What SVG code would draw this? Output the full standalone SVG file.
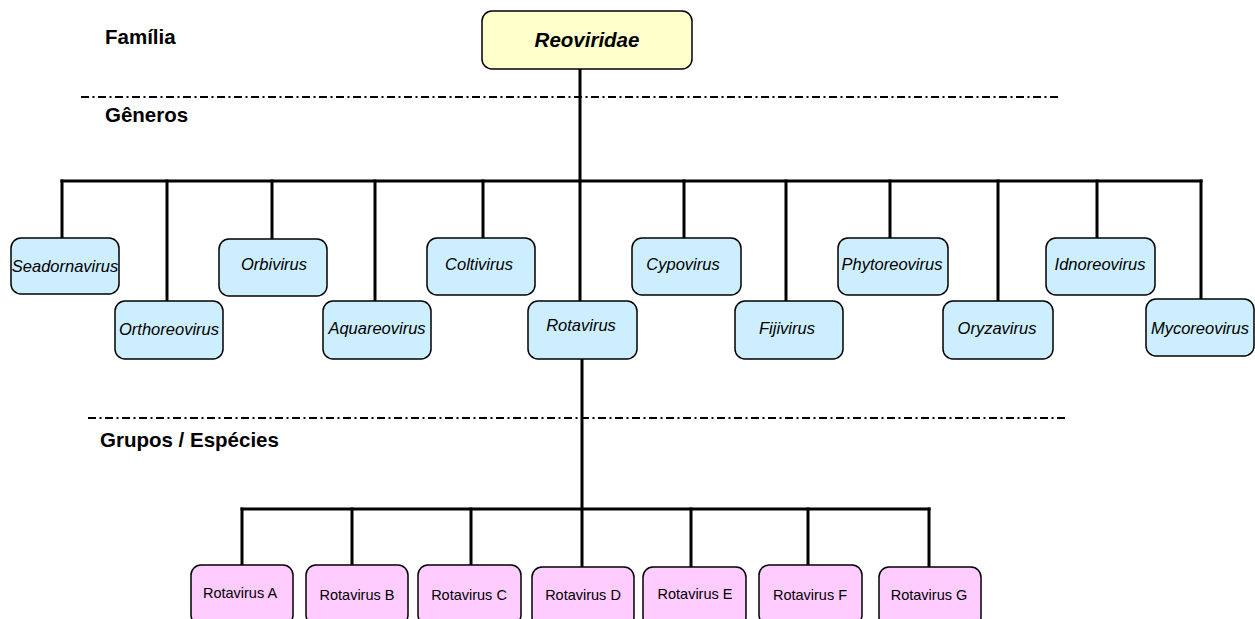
<svg xmlns="http://www.w3.org/2000/svg" width="1255" height="619" viewBox="0 0 1255 619">
<style>
.lbl{font-family:"Liberation Sans",Arial,sans-serif;font-weight:bold;font-size:20.5px;fill:#000}
.root rect{fill:#ffffcc;stroke:#000;stroke-width:1.5}
.root text{font-family:"Liberation Sans",Arial,sans-serif;font-weight:bold;font-style:italic;font-size:20.5px;text-anchor:middle}
.gen rect{fill:#cceeff;stroke:#000;stroke-width:1.5}
.gen text{font-family:"Liberation Sans",Arial,sans-serif;font-style:italic;font-size:16.5px;text-anchor:middle}
.sp rect{fill:#ffccff;stroke:#000;stroke-width:1.5}
.sp text{font-family:"Liberation Sans",Arial,sans-serif;font-size:14.5px;text-anchor:middle}
.sep{stroke:#000;stroke-width:2;stroke-dasharray:8 3.5 2 3.5;fill:none}
.con line{stroke:#000;stroke-width:3;stroke-linecap:square}
</style>
<rect width="1255" height="619" fill="#fff"/>
<g id="labels">
<text class="lbl" x="105" y="44">Família</text>
<text class="lbl" x="105" y="122">Gêneros</text>
<text class="lbl" x="100" y="447">Grupos / Espécies</text>
</g>
<g id="separators">
<line class="sep" x1="81" y1="97" x2="1058" y2="97"/>
<line class="sep" x1="88" y1="418" x2="1066" y2="418"/>
</g>
<g id="connectors" class="con">
<line x1="580" y1="69" x2="580" y2="181"/>
<line x1="62" y1="181" x2="1201" y2="181"/>
<line x1="62" y1="181" x2="62" y2="238"/>
<line x1="167" y1="181" x2="167" y2="301"/>
<line x1="272" y1="181" x2="272" y2="239"/>
<line x1="375" y1="181" x2="375" y2="301"/>
<line x1="483" y1="181" x2="483" y2="238"/>
<line x1="580" y1="181" x2="580" y2="301"/>
<line x1="684" y1="181" x2="684" y2="238"/>
<line x1="786" y1="181" x2="786" y2="301"/>
<line x1="890" y1="181" x2="890" y2="238"/>
<line x1="998" y1="181" x2="998" y2="301"/>
<line x1="1097" y1="181" x2="1097" y2="238"/>
<line x1="1201" y1="181" x2="1201" y2="299"/>
<line x1="582" y1="359" x2="582" y2="567"/>
<line x1="242" y1="509" x2="929" y2="509"/>
<line x1="242" y1="509" x2="242" y2="565"/>
<line x1="352" y1="509" x2="352" y2="565"/>
<line x1="471" y1="509" x2="471" y2="565"/>
<line x1="691" y1="509" x2="691" y2="567"/>
<line x1="808" y1="509" x2="808" y2="565"/>
<line x1="929" y1="509" x2="929" y2="567"/>
</g>
<g id="reoviridae" class="root"><rect x="482" y="11" width="210" height="58" rx="10"/><text x="587" y="47">Reoviridae</text></g>
<g id="seadornavirus" class="gen"><rect x="11" y="238" width="108" height="56" rx="10"/><text x="65" y="272">Seadornavirus</text></g>
<g id="orthoreovirus" class="gen"><rect x="115" y="301" width="108" height="58" rx="10"/><text x="169" y="335">Orthoreovirus</text></g>
<g id="orbivirus" class="gen"><rect x="219" y="239" width="108" height="57" rx="10"/><text x="274" y="270">Orbivirus</text></g>
<g id="aquareovirus" class="gen"><rect x="323" y="301" width="108" height="58" rx="10"/><text x="377" y="334">Aquareovirus</text></g>
<g id="coltivirus" class="gen"><rect x="427" y="238" width="108" height="57" rx="10"/><text x="479" y="270">Coltivirus</text></g>
<g id="rotavirus" class="gen"><rect x="528" y="301" width="109" height="58" rx="10"/><text x="581" y="331">Rotavirus</text></g>
<g id="cypovirus" class="gen"><rect x="632" y="238" width="109" height="57" rx="10"/><text x="683" y="270">Cypovirus</text></g>
<g id="fijivirus" class="gen"><rect x="735" y="301" width="108" height="58" rx="10"/><text x="787" y="334">Fijivirus</text></g>
<g id="phytoreovirus" class="gen"><rect x="838" y="238" width="110" height="57" rx="10"/><text x="892" y="270">Phytoreovirus</text></g>
<g id="oryzavirus" class="gen"><rect x="943" y="301" width="110" height="58" rx="10"/><text x="997" y="334">Oryzavirus</text></g>
<g id="idnoreovirus" class="gen"><rect x="1046" y="238" width="109" height="57" rx="10"/><text x="1100" y="270">Idnoreovirus</text></g>
<g id="mycoreovirus" class="gen"><rect x="1146" y="299" width="108" height="57" rx="10"/><text x="1200" y="334">Mycoreovirus</text></g>
<g id="rotavirus-a" class="sp"><rect x="191" y="565" width="102" height="60" rx="10"/><text x="240" y="598">Rotavirus A</text></g>
<g id="rotavirus-b" class="sp"><rect x="306" y="565" width="102" height="60" rx="10"/><text x="357" y="600">Rotavirus B</text></g>
<g id="rotavirus-c" class="sp"><rect x="418" y="565" width="103" height="60" rx="10"/><text x="469" y="600">Rotavirus C</text></g>
<g id="rotavirus-d" class="sp"><rect x="532" y="567" width="102" height="60" rx="10"/><text x="583" y="600">Rotavirus D</text></g>
<g id="rotavirus-e" class="sp"><rect x="643" y="567" width="103" height="60" rx="10"/><text x="695" y="599">Rotavirus E</text></g>
<g id="rotavirus-f" class="sp"><rect x="759" y="565" width="103" height="60" rx="10"/><text x="810" y="600">Rotavirus F</text></g>
<g id="rotavirus-g" class="sp"><rect x="879" y="567" width="102" height="60" rx="10"/><text x="929" y="600">Rotavirus G</text></g>
</svg>
